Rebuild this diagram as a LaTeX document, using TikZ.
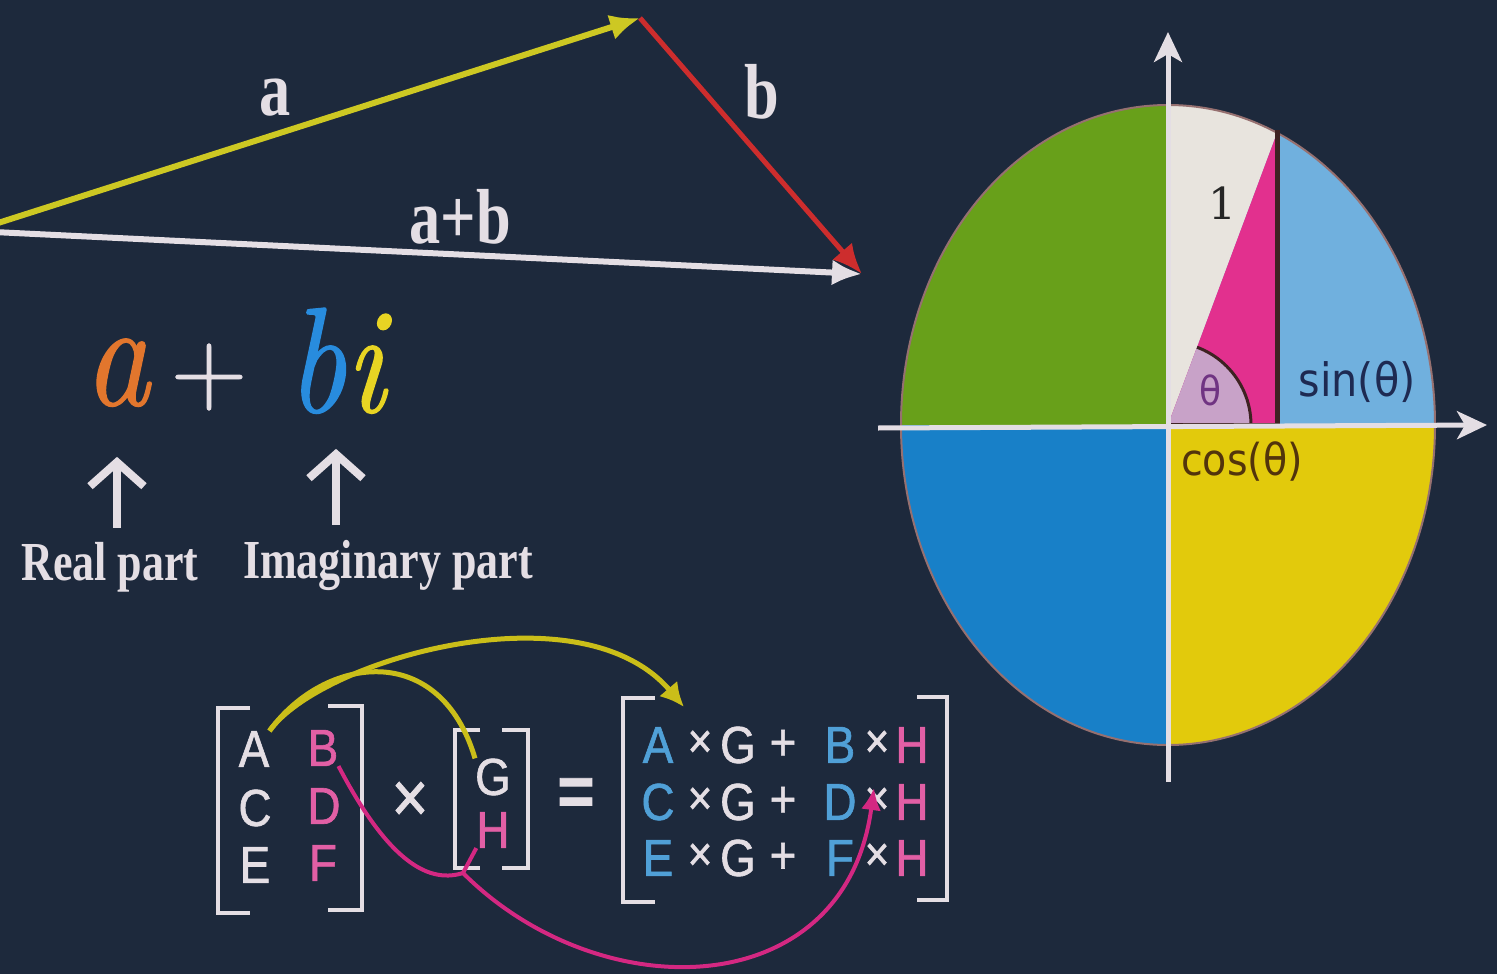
\documentclass[tikz,border=0pt]{standalone}
\usepackage{fontspec}
\usetikzlibrary{arrows.meta,positioning}
\newfontfamily\boardserif{Liberation Serif}[FakeStretch=0.8]
\newfontfamily\boardsans{Liberation Sans}[FakeStretch=0.88, FakeBold=1.2]
\newfontfamily\trigsans{DejaVu Sans}[FakeStretch=0.9]
\newfontfamily\trigserif{DejaVu Serif}
\newfontfamily\mathital{lmroman10-italic.otf}[FakeStretch=0.85, FakeBold=0.8]
\newfontfamily\mathroman{lmroman10-regular.otf}[FakeBold=0.8]
\definecolor{board}{RGB}{29,41,60}
\definecolor{chalk}{RGB}{228,222,228}
\definecolor{veca}{RGB}{205,200,35}
\definecolor{vecb}{RGB}{205,45,45}
\definecolor{realc}{RGB}{226,118,45}
\definecolor{imagb}{RGB}{40,140,222}
\definecolor{imagi}{RGB}{232,212,35}
\definecolor{pinkl}{RGB}{226,95,165}
\definecolor{bluel}{RGB}{80,160,215}
\definecolor{magarc}{RGB}{212,40,130}
\definecolor{yelarc}{RGB}{202,190,25}
\definecolor{qgreen}{RGB}{104,160,26}
\definecolor{qblue}{RGB}{24,128,200}
\definecolor{qyellow}{RGB}{226,202,12}
\definecolor{qsky}{RGB}{112,176,222}
\definecolor{qchalk}{RGB}{232,228,222}
\definecolor{qpink}{RGB}{226,48,142}
\definecolor{qlav}{RGB}{200,162,200}
\definecolor{trigline}{RGB}{62,34,34}
\definecolor{rim}{RGB}{150,112,112}
\definecolor{sintxt}{RGB}{30,42,82}
\definecolor{costxt}{RGB}{82,52,12}
\definecolor{thetatxt}{RGB}{112,52,130}

\begin{document}
\begin{tikzpicture}[
  x=1pt, y=-1pt,
  >=Latex,
  vec/.style={line width=6pt, -{Latex[length=30pt,width=26pt]}},
  veclabel/.style={text=chalk, font=\boardserif\bfseries\fontsize{78}{80}\selectfont, inner sep=0pt, anchor=base},
  partlabel/.style={text=chalk, font=\boardserif\bfseries\fontsize{55}{60}\selectfont, inner sep=0pt, anchor=base},
  bigmath/.style={font=\mathital\fontsize{150}{150}\selectfont, inner sep=0pt, anchor=base},
  partarrow/.style={draw=chalk, line width=8pt, -{Straight Barb[length=24pt,width=54pt]}},
  mlet/.style={font=\boardsans\fontsize{52}{56}\selectfont, inner sep=0pt},
  smalltimes/.style={text=chalk, font=\boardsans\fontsize{48}{52}\selectfont, inner sep=0pt},
  bracket/.style={draw=chalk, line width=4pt},
  yelcurve/.style={draw=yelarc, line width=5pt},
  magcurve/.style={draw=magarc, line width=4pt},
  axis/.style={draw=chalk, line width=5pt, -{Stealth[length=30pt,width=28pt,inset=8pt]}},
  trig/.style={font=\trigsans\fontsize{46}{50}\selectfont, inner sep=0pt}
]
\useasboundingbox (0,0) rectangle (1497,974);
\clip (0,0) rectangle (1497,974);
\fill[board] (0,0) rectangle (1497,974);

\coordinate (tail) at (-27,231);
\coordinate (tipa) at (640,18);
\coordinate (tipb) at (862,274);
\draw[vec, chalk] (tail) -- (tipb);
\draw[vec, veca] (tail) -- (tipa);
\draw[vec, vecb, line width=5pt] (tipa) -- (tipb);
\node[veclabel] (la) at (275,115) {a};
\node[veclabel] (lb) at (762,118) {b};
\node[veclabel] (lab) at (460,243) {a+b};

\node[bigmath, text=realc] (ra) at (117,405) {a};
\node[text=chalk, font=\mathroman\fontsize{100}{100}\selectfont, inner sep=0pt, anchor=base] (plus) at (209,402) {+};
\node[bigmath] (ib) at (336,412) {\color{imagb}b\color{imagi}i};
\node[partlabel] (re) at (110,580) {Real part};
\node[partlabel] (im) at (388,578) {Imaginary part};
\draw[partarrow, shorten <=14pt, shorten >=50pt] (re.north -| ra.south) -- (ra.south);
\draw[partarrow, shorten <=15pt, shorten >=35pt] (im.north -| ib.south) -- (ib.south);

\node[mlet, text=chalk] (mA) at (254,749) {A};
\node[mlet, text=chalk] (mC) at (255,808) {C};
\node[mlet, text=chalk] (mE) at (255,865) {E};
\node[mlet, text=pinkl] (mB) at (323,748) {B};
\node[mlet, text=pinkl] (mD) at (324,806) {D};
\node[mlet, text=pinkl] (mF) at (323,863) {F};
\draw[bracket] (250,708) -| (218,913) -- (250,913);
\draw[bracket] (328,706) -| (362,910) -- (328,910);
\node[text=chalk, font=\boardsans\fontsize{72}{76}\selectfont, inner sep=0pt] (times) at (410,802) {×};
\node[mlet, text=chalk] (vG) at (493,777) {G};
\node[mlet, text=pinkl] (vH) at (493,830) {H};
\draw[bracket] (480,730) -| (455,868) -- (480,868);
\draw[bracket] (502,730) -| (528,868) -- (502,868);
\node[text=chalk, font=\boardsans\bfseries\fontsize{72}{76}\selectfont, inner sep=0pt] (eq) at (576,797) {=};

\node[mlet, text=bluel] (r1a) at (658,745) {A};
\node[smalltimes] (r1x) at (700,744) {×};
\node[mlet, text=chalk] (r1g) at (738,745) {G};
\node[mlet, text=chalk] (r1p) at (783,745) {+};
\node[mlet, text=bluel] (r1b) at (840,745) {B};
\node[smalltimes] (r1y) at (877,744) {×};
\node[mlet, text=pinkl] (r1h) at (912,745) {H};
\node[mlet, text=bluel] (r2a) at (658,802) {C};
\node[smalltimes] (r2x) at (700,801) {×};
\node[mlet, text=chalk] (r2g) at (738,802) {G};
\node[mlet, text=chalk] (r2p) at (783,802) {+};
\node[mlet, text=bluel] (r2b) at (840,802) {D};
\node[smalltimes] (r2y) at (877,801) {×};
\node[mlet, text=pinkl] (r2h) at (912,802) {H};
\node[mlet, text=bluel] (r3a) at (658,858) {E};
\node[smalltimes] (r3x) at (700,857) {×};
\node[mlet, text=chalk] (r3g) at (738,858) {G};
\node[mlet, text=chalk] (r3p) at (783,858) {+};
\node[mlet, text=bluel] (r3b) at (840,858) {F};
\node[smalltimes] (r3y) at (877,857) {×};
\node[mlet, text=pinkl] (r3h) at (912,858) {H};
\draw[bracket] (655,698) -| (623,902) -- (655,902);
\draw[bracket] (917,697) -| (947,900) -- (917,900);

\coordinate (hitAG) at (684,707);
\coordinate (hitDH) at (874,788);
\coordinate (hjoin) at (463,873);
\draw[yelcurve] (mA.north east) .. controls (325,655) and (440,640) .. (vG.north west);
\draw[yelcurve, -{Latex[length=24pt,width=24pt]}] (mA.north east) .. controls (320,660) and (580,585) .. (hitAG);
\draw[magcurve] (vH.south west) -- (hjoin);
\draw[magcurve, -{Latex[length=22pt,width=20pt]}] (mB.south east) .. controls (385,855) and (425,885) .. (hjoin) .. controls (600,1010) and (845,1005) .. (hitDH);

\coordinate (O) at (1168,425);
\begin{scope}
  \clip (O) ellipse [x radius=267, y radius=320];
  \fill[qgreen] (O) rectangle (880,90);
  \fill[qblue] (O) rectangle (880,760);
  \fill[qyellow] (O) rectangle (1450,760);
  \fill[qsky] (O) rectangle (1450,90);
  \fill[qchalk] (O) -- (1168,90) -- (1293,90) -- cycle;
  \fill[qpink] (O) -- (1277,425) -- (1277,133) -- cycle;
  \begin{scope}
    \clip (O) -- (1277,425) -- (1277,133) -- cycle;
    \fill[qlav] (O) circle (83);
    \draw[trigline, line width=3pt] (O) circle (83);
  \end{scope}
\end{scope}
\draw[rim, line width=2pt] (O) ellipse [x radius=267, y radius=320];
\draw[trigline, line width=5pt] (O) -- (1277,425) -- (1277,130);
\coordinate (xl) at (878,428);
\coordinate (xr) at (1487,425);
\coordinate (yb) at (1168,782);
\coordinate (yt) at (1168,32);
\draw[axis] (xl) -- (xr);
\draw[axis] (yb) -- (yt);
\node[text=black!85, font=\trigserif\fontsize{44}{48}\selectfont, inner sep=0pt] (one) at (1222,203) {1};
\node[trig, text=thetatxt, font=\trigsans\fontsize{40}{44}\selectfont] (theta) at (1210,390) {θ};
\node[trig, text=sintxt] (sinl) at (1357,382) {sin(θ)};
\node[trig, text=costxt, font=\trigsans\fontsize{44}{48}\selectfont] (cosl) at (1242,462) {cos(θ)};
\end{tikzpicture}
\end{document}
